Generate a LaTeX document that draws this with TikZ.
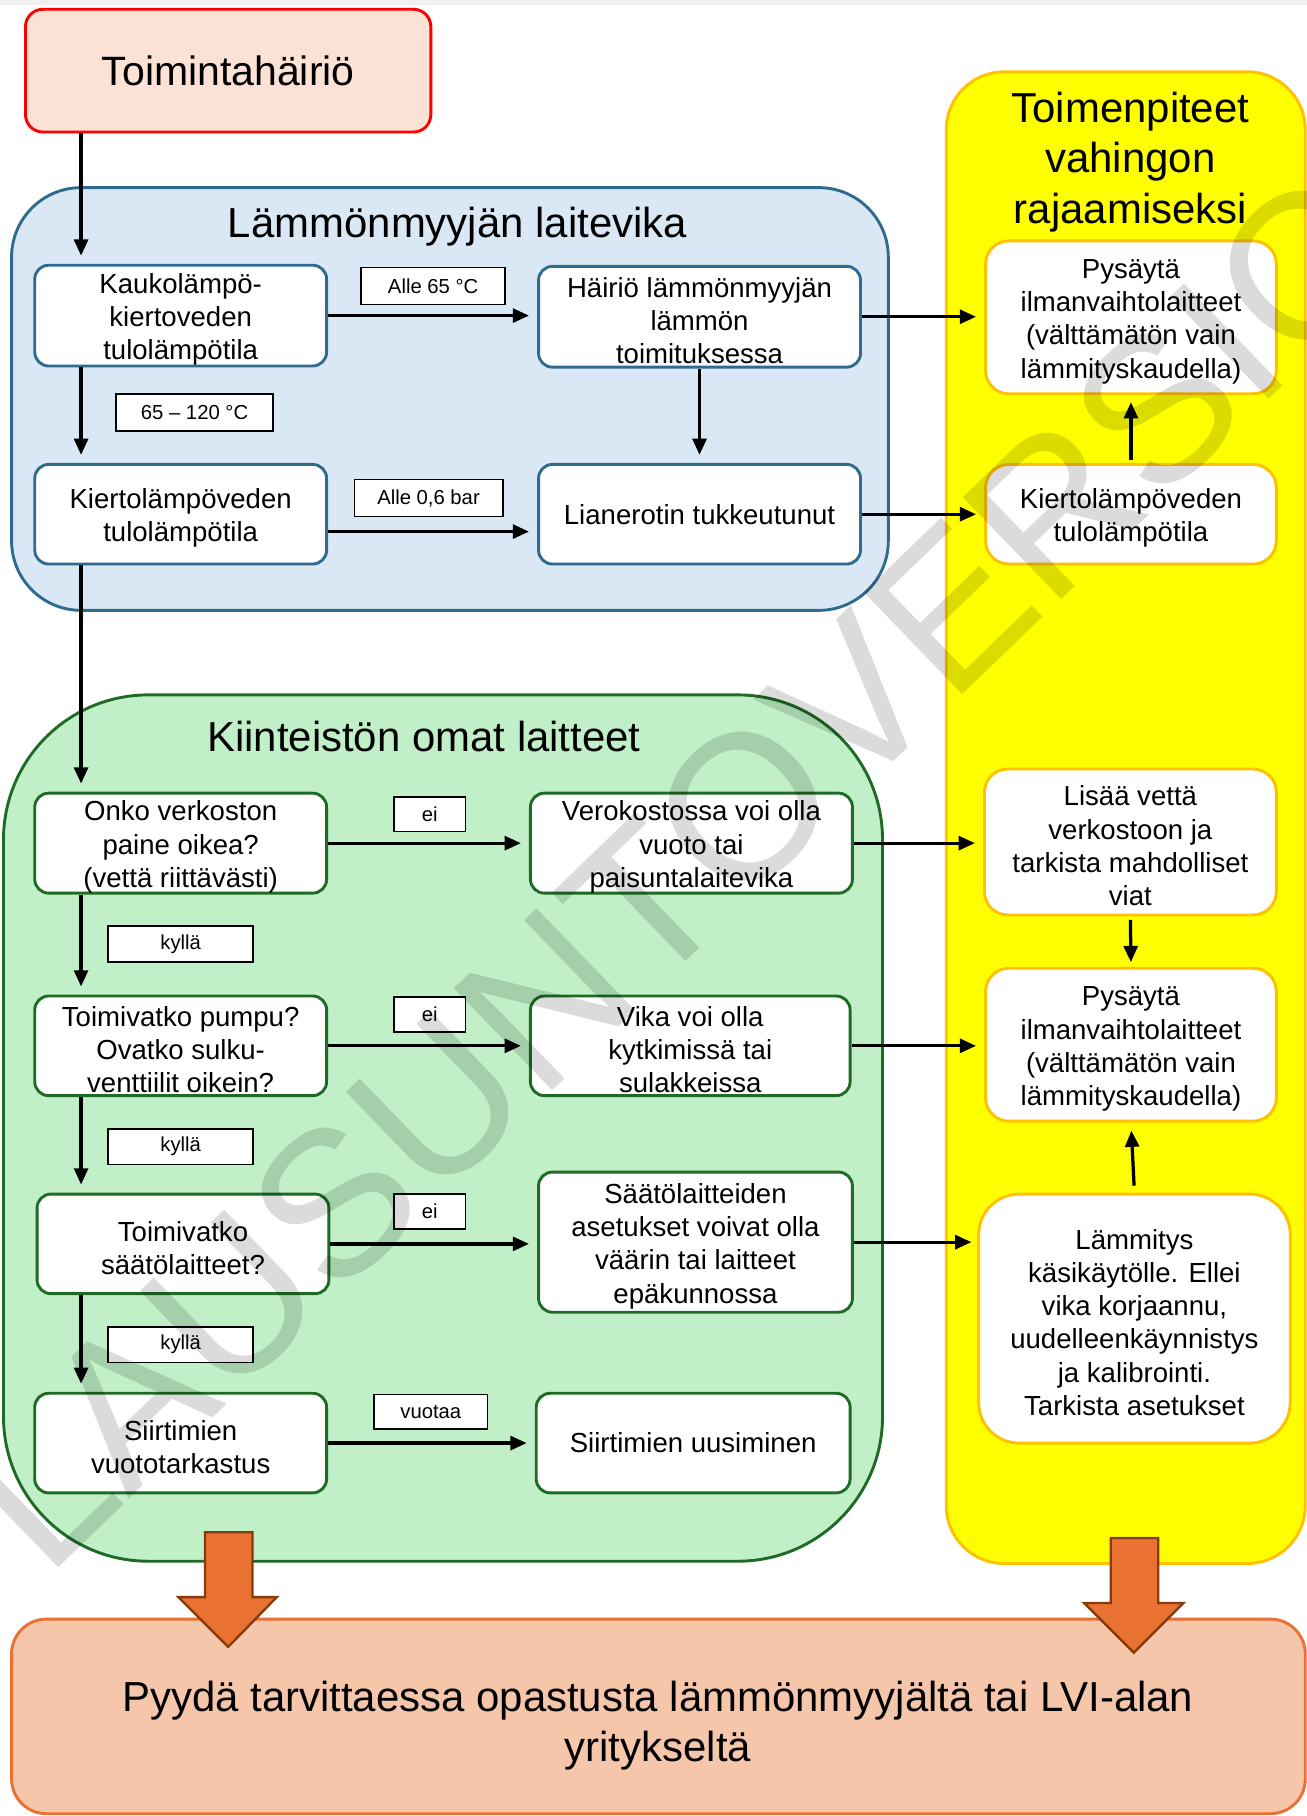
\documentclass[tikz,border=0pt]{standalone}
\usepackage{fontspec}
\setmainfont{Liberation Sans}
\usetikzlibrary{arrows.meta}
\definecolor{topfill}{HTML}{FBE2D5}
\definecolor{topbd}{HTML}{FF0000}
\definecolor{bluefill}{HTML}{DAE8F5}
\definecolor{bluebd}{HTML}{2F6B8E}
\definecolor{greenfill}{HTML}{C1F0C8}
\definecolor{greenbd}{HTML}{1E6B25}
\definecolor{yellowfill}{HTML}{FFFF00}
\definecolor{yellowbd}{HTML}{FFC000}
\definecolor{orangefill}{HTML}{E97132}
\definecolor{orangebd}{HTML}{843C0C}
\definecolor{bottomfill}{HTML}{F5C6AA}
\newcommand\myBody{\fontsize{23.8}{28.7}\selectfont}
\newcommand\myTitle{\fontsize{36.2}{43.5}\selectfont}
\newcommand\myLbl{\fontsize{17.5}{20}\selectfont}
\newcommand\myStrut{\rule{0pt}{24pt}}
\begin{document}
\begin{tikzpicture}[x=1pt,y=-1pt,
  basebox/.style={draw, fill=white, line width=2.5pt, rounded corners=12pt, inner sep=0pt, align=center},
  box/.style={basebox, font=\myBody},
  bbox/.style={box, draw=bluebd},
  gbox/.style={box, draw=greenbd},
  ybox/.style={box, draw=yellowbd, rounded corners=20pt},
  lbl/.style={draw=black, fill=white, line width=1.5pt, inner sep=0pt, font=\myLbl},
  arr/.style={line width=2.8pt, -{Triangle[length=14pt,width=12pt]}, shorten >=7pt},
  grp/.style={line width=2.5pt},
  blockarr/.style={fill=orangefill, draw=orangebd, line width=2pt, line join=miter},
  ttl/.style={inner sep=0pt, align=center, font=\myTitle}
]
\useasboundingbox (0,0) rectangle (1128.5,1568);
\fill[white] (0,0) rectangle (1128.5,1568);
\draw[draw=black!6, line width=4pt] (0,2) -- (1128.5,2);

% groups
\draw[grp, fill=yellowfill, draw=yellowbd, rounded corners=50pt] (817,62) rectangle (1127,1350);
\draw[grp, fill=bluefill, draw=bluebd, rounded corners=60pt] (10,162) rectangle (767,527);
\draw[grp, fill=greenfill, draw=greenbd, rounded corners=125pt] (3,600) rectangle (762,1348);
\draw[grp, fill=bottomfill, draw=orangefill, rounded corners=30pt] (10,1398) rectangle (1127,1566);

% titles
\node[ttl] (bt) at (395,196) {Lämmönmyyjän laitevika};
\node[ttl] (gt) at (366,636) {Kiinteistön omat laitteet};
\node[ttl] (yt) at (976,140) {Toimenpiteet\\vahingon\\rajaamiseksi};
\node[ttl] (bot) at (568,1490) {Pyydä tarvittaessa opastusta lämmönmyyjältä tai LVI-alan\\yritykseltä};

% top node
\node[basebox, draw=topbd, fill=topfill, rounded corners=15pt, minimum width=350pt, minimum height=106pt, font=\fontsize{35.4}{40}\selectfont] (t) at (197,61) {Toimintahäiriö};

% blue boxes
\node[bbox, minimum width=252pt, minimum height=87pt] (k1) at (156,272.5) {\myStrut Kaukolämpö-\\kiertoveden\\tulolämpötila};
\node[bbox, minimum width=278pt, minimum height=87pt] (h1) at (604,273.5) {\myStrut Häiriö lämmönmyyjän\\lämmön\\toimituksessa};
\node[bbox, minimum width=252pt, minimum height=86pt] (k2) at (156,444) {\myStrut Kiertolämpöveden\\tulolämpötila};
\node[bbox, minimum width=278pt, minimum height=86pt] (l1) at (604,444) {Lianerotin tukkeutunut};
\node[lbl, minimum width=124pt, minimum height=32pt] (a65) at (374,247) {Alle 65 °C};
\node[lbl, minimum width=136pt, minimum height=32pt] (r65) at (168,356) {65 – 120 °C};
\node[lbl, minimum width=128pt, minimum height=32pt] (a06) at (370,430) {Alle 0,6 bar};

% yellow boxes
\node[ybox, minimum width=251pt, minimum height=132pt] (y1) at (976.5,274) {\myStrut Pysäytä\\ilmanvaihtolaitteet\\(välttämätön vain\\lämmityskaudella)};
\node[ybox, minimum width=251pt, minimum height=86pt] (y2) at (976.5,444) {\myStrut Kiertolämpöveden\\tulolämpötila};
\node[ybox, minimum width=252pt, minimum height=126pt] (y3) at (976,727) {\myStrut Lisää vettä\\verkostoon ja\\tarkista mahdolliset\\viat};
\node[ybox, minimum width=251pt, minimum height=132pt] (y4) at (976.5,902) {\myStrut Pysäytä\\ilmanvaihtolaitteet\\(välttämätön vain\\lämmityskaudella)};
\node[ybox, rounded corners=35pt, minimum width=269pt, minimum height=215pt] (y5) at (979.5,1138.5) {\myStrut Lämmitys\\käsikäytölle. Ellei\\vika korjaannu,\\uudelleenkäynnistys\\ja kalibrointi.\\Tarkista asetukset};

% green boxes
\node[gbox, minimum width=252pt, minimum height=86pt] (g1) at (156,728) {\myStrut Onko verkoston\\paine oikea?\\(vettä riittävästi)};
\node[gbox, minimum width=278pt, minimum height=86pt] (g2) at (597,728) {\myStrut Verokostossa voi olla\\vuoto tai\\paisuntalaitevika};
\node[gbox, minimum width=252pt, minimum height=86pt] (g3) at (156,903) {\myStrut Toimivatko pumpu?\\Ovatko sulku-\\venttiilit oikein?};
\node[gbox, minimum width=276pt, minimum height=86pt] (g4) at (596,903) {\myStrut Vika voi olla\\kytkimissä tai\\sulakkeissa};
\node[gbox, minimum width=252pt, minimum height=86pt] (g5) at (158,1074) {\myStrut Toimivatko\\säätölaitteet?};
\node[gbox, minimum width=271pt, minimum height=121pt] (g6) at (600.5,1072.5) {\myStrut Säätölaitteiden\\asetukset voivat olla\\väärin tai laitteet\\epäkunnossa};
\node[gbox, minimum width=252pt, minimum height=86pt] (g7) at (156,1246) {\myStrut Siirtimien\\vuototarkastus};
\node[gbox, minimum width=271pt, minimum height=86pt] (g8) at (598.5,1246) {Siirtimien uusiminen};
\node[lbl, minimum width=62pt, minimum height=30pt] (ei1) at (371,703) {ei};
\node[lbl, minimum width=125pt, minimum height=31pt] (ky1) at (156,815) {kyllä};
\node[lbl, minimum width=62pt, minimum height=30pt] (ei2) at (371,876) {ei};
\node[lbl, minimum width=125pt, minimum height=31pt] (ky2) at (156,990) {kyllä};
\node[lbl, minimum width=62pt, minimum height=30pt] (ei3) at (371,1046) {ei};
\node[lbl, minimum width=125pt, minimum height=31pt] (ky3) at (156,1161) {kyllä};
\node[lbl, minimum width=98pt, minimum height=30pt] (vu) at (372,1219) {vuotaa};

% connectors
\coordinate (vx) at (70,0);
\draw[arr] (t.south -| vx) -- (k1.north -| vx);
\draw[arr] (k1.south -| vx) -- (k2.north -| vx);
\draw[arr] (k2.south -| vx) -- (g1.north -| vx);
\draw[arr] (g1.south -| vx) -- (g3.north -| vx);
\draw[arr] (g3.south -| vx) -- (g5.north -| vx);
\draw[arr] (g5.south -| vx) -- (g7.north -| vx);
\draw[arr] (k1.east) -- (k1.east -| h1.west);
\draw[arr] (h1.south) -- (l1.north);
\coordinate (s1) at ([yshift=-15pt]k2.east);
\draw[arr] (s1) -- (s1 -| l1.west);
\draw[arr] (h1.east) -- (h1.east -| y1.west);
\draw[arr] (l1.east) -- (l1.east -| y2.west);
\draw[arr, shorten <=3pt, shorten >=6pt] (y2.north) -- (y1.south);
\draw[arr] (g1.east) -- (g1.east -| g2.west);
\draw[arr] (g3.east) -- (g3.east -| g4.west);
\draw[arr] (g5.east) -- (g5.east -| g6.west);
\draw[arr] (g7.east) -- (g7.east -| g8.west);
\draw[arr] (g2.east) -- (g2.east -| y3.west);
\draw[arr] (g4.east) -- (g4.east -| y4.west);
\draw[arr, shorten >=5pt] (g6.east) -- (g6.east -| y5.west);
\draw[arr, shorten <=3pt, shorten >=4pt] (y3.south) -- (y4.north);
\draw[arr, shorten <=6pt, shorten >=7pt] (y5.north) -- (y4.south);

% block arrows
\draw[blockarr] (177,1323) -- (218,1323) -- (218,1379) -- (239,1379) -- (197,1422) -- (154,1379) -- (177,1379) -- cycle;
\draw[blockarr] (959,1328) -- (1000,1328) -- (1000,1384) -- (1022,1384) -- (979,1427) -- (936,1384) -- (959,1384) -- cycle;

% watermark
\node[rotate=44, anchor=base west, text=black, text opacity=0.14, inner sep=0pt, font=\fontsize{178}{178}\selectfont] (wm) at (40,1364) {LAUSUNTOVERSIO};
\end{tikzpicture}
\end{document}
